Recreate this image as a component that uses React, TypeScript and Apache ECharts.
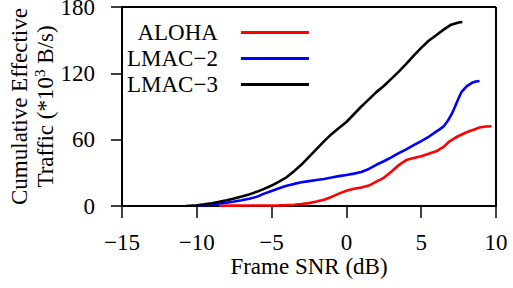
import React, { useEffect, useRef } from "react";
import * as echarts from "echarts";

const seriesNames = ["ALOHA", "LMAC\u22122", "LMAC\u22123"];

const alohaX = [-8.5, -7.5, -6.5, -5.5, -4.5, -4, -3.5, -3, -2.5, -2, -1.5, -1, -0.5, 0, 0.5, 1, 1.5, 2, 2.5, 3, 3.5, 4, 4.5, 5, 5.5, 6, 6.25, 6.5, 6.9, 7.25, 7.6, 8, 8.3, 8.6, 8.9, 9.3, 9.7];
const alohaY = [0.2, 0.3, 0.4, 0.5, 0.6, 0.8, 1.1, 1.8, 2.6, 4, 5.7, 8.2, 11.2, 13.8, 15.6, 16.8, 18.5, 22, 25.5, 31, 37, 41.5, 43.5, 45, 47.3, 49.5, 51.5, 53.5, 58.5, 61.5, 64, 66.5, 68, 69.5, 71, 71.9, 72.2];

const lmac2X = [-10, -9.5, -9, -8.5, -8, -7.5, -7, -6.5, -6, -5.5, -5, -4.5, -4, -3.5, -3, -2.5, -2, -1.5, -1, -0.5, 0, 0.5, 1, 1.5, 2, 2.5, 3, 3.5, 4, 4.5, 5, 5.5, 6, 6.25, 6.5, 6.8, 7.05, 7.25, 7.5, 7.7, 8.05, 8.4, 8.65, 8.9];
const lmac2Y = [0, 0.5, 1.2, 2.2, 3, 4, 5.2, 6.6, 8.3, 11.2, 13.5, 16, 18.3, 20, 21.5, 22.5, 23.5, 24.5, 25.7, 27, 28, 29.3, 30.8, 33.5, 37.3, 40.5, 44, 47.8, 51.3, 55, 58.7, 62.6, 67.3, 69.5, 72, 77.5, 83.5, 89.5, 97.5, 103.3, 108.4, 111.4, 112.6, 113];

const lmac3X = [-10.75, -10.5, -10, -9.5, -9, -8.5, -8, -7.5, -7, -6.5, -6, -5.5, -5, -4.5, -4, -3.5, -3, -2.5, -2, -1.5, -1, -0.5, 0, 0.5, 1, 1.5, 2, 2.5, 3, 3.5, 4, 4.5, 5, 5.5, 6, 6.5, 7, 7.5, 7.75];
const lmac3Y = [0, 0.2, 0.6, 1.5, 2.5, 3.8, 5.2, 6.8, 8.5, 10.5, 12.8, 15.5, 18.5, 22, 26, 31.5, 37.5, 44.5, 51.5, 58.5, 65, 70.5, 76, 83, 90, 96.5, 103, 108.5, 115, 121.5, 128.5, 136, 143, 149.5, 154.5, 159.5, 164, 166, 166.5];

const xTicks = { min: -15, max: 10, interval: 5 };
const yTicks = { min: 0, max: 180, interval: 60 };

const FONT = "Liberation Serif";

export default function App() {
  const ref = useRef<HTMLDivElement>(null);
  useEffect(() => {
    const chart = echarts.init(ref.current!, null, { renderer: "svg" });
    const mk = (xs: number[], ys: number[]) => xs.map((x, i) => [x, ys[i]]);
    const colors = ["#ff0000", "#0000ff", "#000000"];
    const datas = [mk(alohaX, alohaY), mk(lmac2X, lmac2Y), mk(lmac3X, lmac3Y)];
    const frameTop = [
      [xTicks.min, yTicks.max],
      [xTicks.max, yTicks.max],
    ];
    const frameRight = [
      [xTicks.max, yTicks.max],
      [xTicks.max, yTicks.min],
    ];
    const frameSeries = (data: number[][]) => ({
      type: "line",
      data,
      symbol: "none",
      showSymbol: false,
      clip: false,
      silent: true,
      z: 10,
      color: "#000",
      lineStyle: { color: "#000", width: 2 },
      legendHoverLink: false,
    });
    chart.setOption({
      animation: false,
      textStyle: { fontFamily: FONT },
      grid: {
        left: 122,
        right: 17,
        top: 7,
        bottom: 82,
        outerBoundsMode: "none",
        containLabel: false,
      },
      legend: {
        orient: "vertical",
        left: 127,
        top: 21,
        padding: 0,
        itemGap: 3,
        align: "right",
        icon: "rect",
        itemWidth: 68,
        itemHeight: 3,
        data: seriesNames,
        textStyle: {
          fontSize: 23,
          fontFamily: FONT,
          color: "#000",
          padding: [0, 18, 0, 0],
        },
      },
      xAxis: {
        type: "value",
        min: xTicks.min,
        max: xTicks.max,
        interval: xTicks.interval,
        name: "Frame SNR (dB)",
        nameLocation: "middle",
        nameGap: 49,
        nameMoveOverlap: false,
        nameTextStyle: { fontSize: 23, fontFamily: FONT, color: "#000" },
        axisLine: { show: true, onZero: false, lineStyle: { color: "#000", width: 2 } },
        axisTick: { show: true, inside: false, length: 12, lineStyle: { color: "#000", width: 1.5 } },
        axisLabel: {
          fontSize: 23,
          fontFamily: FONT,
          color: "#000",
          margin: 25,
          formatter: (v: number) => String(v).replace("-", "\u2212"),
        },
        splitLine: { show: false },
      },
      yAxis: {
        type: "value",
        min: yTicks.min,
        max: yTicks.max,
        interval: yTicks.interval,
        name: "{a|Cumulative Effective}\n{a|Traffic (*10}{s|3}{a| B/s)}",
        nameLocation: "middle",
        nameRotate: 90,
        nameGap: 64,
        nameMoveOverlap: false,
        nameTextStyle: {
          fontSize: 23,
          fontFamily: FONT,
          color: "#000",
          lineHeight: 26,
          rich: {
            a: { fontSize: 23, fontFamily: FONT, color: "#000", lineHeight: 26 },
            s: { fontSize: 15, fontFamily: FONT, color: "#000", lineHeight: 15, verticalAlign: "top" },
          },
        },
        axisLine: { show: true, onZero: false, lineStyle: { color: "#000", width: 2 } },
        axisTick: { show: true, inside: false, length: 11, lineStyle: { color: "#000", width: 1.5 } },
        axisLabel: { fontSize: 23, fontFamily: FONT, color: "#000", margin: 27, padding: [4, 0, 0, 0] },
        splitLine: { show: true, interval: 0, lineStyle: { color: "transparent" } },
      },
      series: [
        ...seriesNames.map((n, i) => ({
          name: n,
          type: "line",
          data: datas[i],
          symbol: "none",
          showSymbol: false,
          color: colors[i],
          lineStyle: { color: colors[i], width: 2.6 },
        })),
        frameSeries(frameTop),
        frameSeries(frameRight),
      ],
    });
    return () => chart.dispose();
  }, []);
  return <div ref={ref} style={{ width: 513, height: 288, position: "absolute", left: 0, top: 0 }} />;
}
